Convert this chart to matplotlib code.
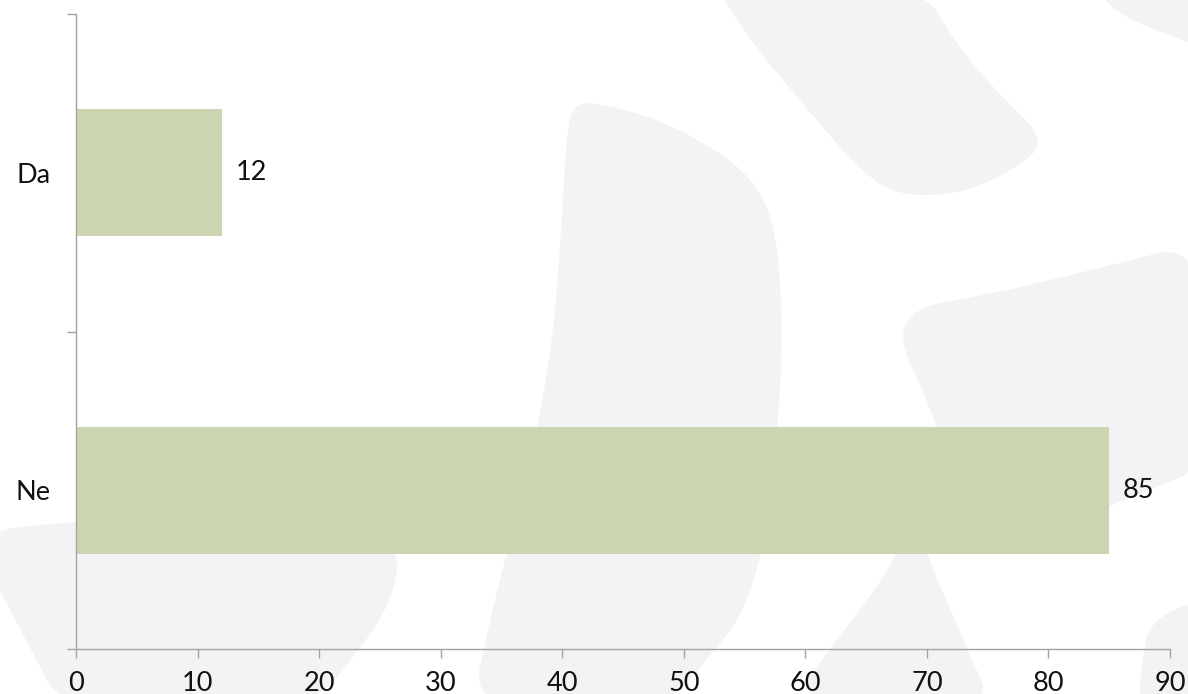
import matplotlib
matplotlib.use("Agg")
import matplotlib.pyplot as plt
from matplotlib.patches import Polygon
from matplotlib.transforms import Affine2D
import numpy as np

# ---- data ----
categories = ["Da", "Ne"]
values = [12, 85]
x_ticks = [0, 10, 20, 30, 40, 50, 60, 70, 80, 90]

BAR_COLOR = "#CBD5B1"
AXIS_COLOR = "#A3A3A3"
TEXT_COLOR = "#111111"
EMBLEM_COLOR = "#F3F3F5"
FONT_SIZE = 19.5

W, H = 1188, 694
plt.rcParams["font.family"] = ["Lato", "DejaVu Sans"]
fig = plt.figure(figsize=(W / 100, H / 100), dpi=100, facecolor="white")

# ---- faint background emblem (pixel units, origin at top-left) ----
px = Affine2D().scale(1 / W, -1 / H).translate(0, 1) + fig.transFigure


def rounded(pts, rounds=3):
    """Chaikin corner cutting for a closed outline."""
    p = np.asarray(pts, float)
    for _ in range(rounds):
        q = np.roll(p, -1, axis=0)
        out = np.empty((2 * len(p), 2))
        out[0::2] = 0.75 * p + 0.25 * q
        out[1::2] = 0.25 * p + 0.75 * q
        p = out
    return p


emblem_outlines = [
    [(712, -20), (740, 25), (770, 65), (810, 112), (855, 165), (895, 196),
     (960, 194), (1010, 172), (1048, 142), (1000, 95), (960, 50), (918, -20)],
    [(1085, -20), (1120, 15), (1160, 32), (1210, 50), (1210, -20)],
    [(573, 100), (620, 108), (667, 123), (733, 160), (767, 200), (780, 260),
     (782, 360), (776, 450), (765, 540), (745, 610), (715, 650), (660, 714),
     (470, 714), (490, 620), (510, 540), (535, 440), (553, 340), (562, 220),
     (566, 140)],
    [(-20, 530), (100, 520), (250, 516), (370, 528), (400, 553), (392, 600),
     (360, 650), (305, 714), (65, 714), (30, 648), (0, 590), (-20, 560)],
    [(887, 313), (1000, 292), (1100, 268), (1210, 240), (1210, 465),
     (1150, 490), (1100, 510), (1000, 545), (950, 470), (933, 413)],
    [(910, 480), (925, 553), (967, 647), (995, 714), (780, 714), (860, 610),
     (900, 553)],
    [(1150, 620), (1210, 595), (1210, 714), (1138, 714), (1142, 660)],
]
for outline in emblem_outlines:
    fig.patches.append(Polygon(rounded(outline), closed=True, transform=px,
                               facecolor=EMBLEM_COLOR, edgecolor="none",
                               zorder=-5))

# ---- chart ----
ax = fig.add_axes([76 / W, 1 - 649 / H, (1170 - 76) / W, (649 - 14) / H])
ax.set_facecolor("none")

ypos = np.arange(len(categories))[::-1]
bars = ax.barh(ypos, values, height=0.4, color=BAR_COLOR, zorder=2)

ax.set_xlim(0, 90)
ax.set_ylim(-0.5, len(categories) - 0.5)

for side in ("top", "right"):
    ax.spines[side].set_visible(False)
for side in ("left", "bottom"):
    ax.spines[side].set_color(AXIS_COLOR)
    ax.spines[side].set_linewidth(1.0)

ax.set_xticks(x_ticks)
ax.set_xticklabels([str(t) for t in x_ticks])
ax.tick_params(axis="x", direction="out", length=6.5, width=1.0,
               color=AXIS_COLOR, pad=9, labelsize=FONT_SIZE,
               labelcolor=TEXT_COLOR)

# category boundaries carry the tick marks, names sit between them
ax.set_yticks(np.arange(len(categories) + 1) - 0.5)
ax.set_yticklabels([])
ax.set_yticks(ypos, minor=True)
ax.set_yticklabels(categories, minor=True)
ax.tick_params(axis="y", which="major", direction="out", length=6.5,
               width=1.0, color=AXIS_COLOR)
ax.tick_params(axis="y", which="minor", length=0, pad=18.5,
               labelsize=FONT_SIZE, labelcolor=TEXT_COLOR)

ax.bar_label(bars, labels=[str(v) for v in values], padding=10,
             fontsize=FONT_SIZE, color=TEXT_COLOR)

fig.savefig("out.png", dpi=100, facecolor="white")
